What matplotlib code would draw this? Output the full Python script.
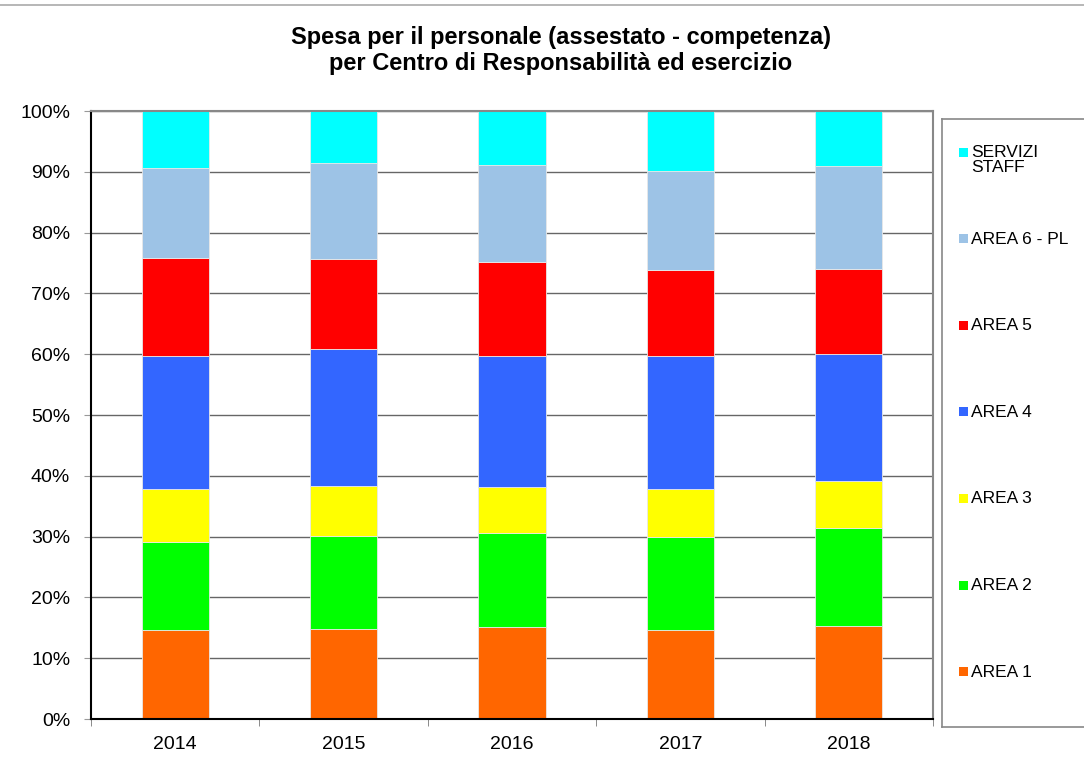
import numpy as np
import matplotlib.pyplot as plt
from matplotlib.patches import Rectangle
from matplotlib.lines import Line2D

plt.rcParams['font.family'] = ['Liberation Sans', 'DejaVu Sans']

# dati (% sul totale)
anni = ['2014', '2015', '2016', '2017', '2018']
area1 = [14.6, 14.8, 15.1, 14.6, 15.3]
area2 = [14.5, 15.3, 15.5, 15.4, 16.1]
area3 = [8.8, 8.3, 7.6, 7.8, 7.8]
area4 = [21.8, 22.4, 21.5, 21.9, 20.8]
area5 = [16.1, 14.9, 15.5, 14.2, 14.0]
area6 = [14.9, 15.8, 16.0, 16.3, 16.9]
staff = [9.3, 8.5, 8.8, 9.8, 9.1]

serie = [area1, area2, area3, area4, area5, area6, staff]
nomi = ['AREA 1', 'AREA 2', 'AREA 3', 'AREA 4', 'AREA 5', 'AREA 6 - PL', 'SERVIZI\nSTAFF']
colori = ['#FF6600', '#00FF00', '#FFFF00', '#3366FF', '#FF0000', '#9DC3E6', '#00FFFF']

fig = plt.figure(figsize=(10.84, 7.66), dpi=100)
ax = fig.add_axes([91/1084, 47/766, 842/1084, 608/766])

x = np.arange(len(anni))
tot = np.sum(serie, axis=0)
base = np.zeros(len(anni))
for s, c in zip(serie, colori):
    v = np.array(s) / tot * 100
    ax.bar(x, v, width=0.4, bottom=base, color=c, edgecolor='#e8e8e8', linewidth=0.6, zorder=2)
    base += v

ax.set_xlim(-0.5, len(anni) - 0.5)
ax.set_ylim(0, 100)
ax.set_yticks(np.arange(0, 101, 10))
ax.set_yticklabels([f'{t}%' for t in range(0, 101, 10)], fontsize=14)
ax.set_xticks(x)
ax.set_xticklabels(anni, fontsize=14)
ax.set_xticks(np.arange(-0.5, len(anni), 1), minor=True)
ax.tick_params(axis='x', which='major', length=0, pad=12)
ax.tick_params(axis='x', which='minor', length=5, color='#777777', direction='out')
ax.tick_params(axis='y', length=5, color='#999999', pad=10)
ax.yaxis.grid(True, color='#666666', linewidth=1, zorder=0)
ax.set_axisbelow(True)
for sp in ['top', 'right']:
    ax.spines[sp].set_color('#888888')
    ax.spines[sp].set_linewidth(1.5)
for sp in ['left', 'bottom']:
    ax.spines[sp].set_color('black')
    ax.spines[sp].set_linewidth(1.5)

fig.text(0.5175, 1 - 26/766, 'Spesa per il personale (assestato - competenza)\nper Centro di Responsabilità ed esercizio',
         ha='center', va='top', fontsize=17, fontweight='bold', linespacing=1.15)

# riga in alto
fig.add_artist(Line2D([0, 1], [1 - 5/766, 1 - 5/766], color='#aaaaaa', linewidth=1.2))

# legenda in un riquadro a parte (coordinate in pixel)
lax = fig.add_axes([942/1084, 39/766, 150/1084, 608/766])
lax.set_xlim(942, 1092)
lax.set_ylim(727, 119)
lax.set_xticks([])
lax.set_yticks([])
for sp in lax.spines.values():
    sp.set_color('#888888')
    sp.set_linewidth(1.2)
passo = 86.6
y0 = 152
for i, (nome, c) in enumerate(zip(nomi[::-1], colori[::-1])):
    y = y0 + i * passo
    lax.add_patch(Rectangle((959, y - 4.5), 9, 9, facecolor=c, edgecolor='none'))
    lax.text(971, y - 7, nome, ha='left', va='top', fontsize=12.5, linespacing=1.0)

fig.savefig('out.png', dpi=100)
